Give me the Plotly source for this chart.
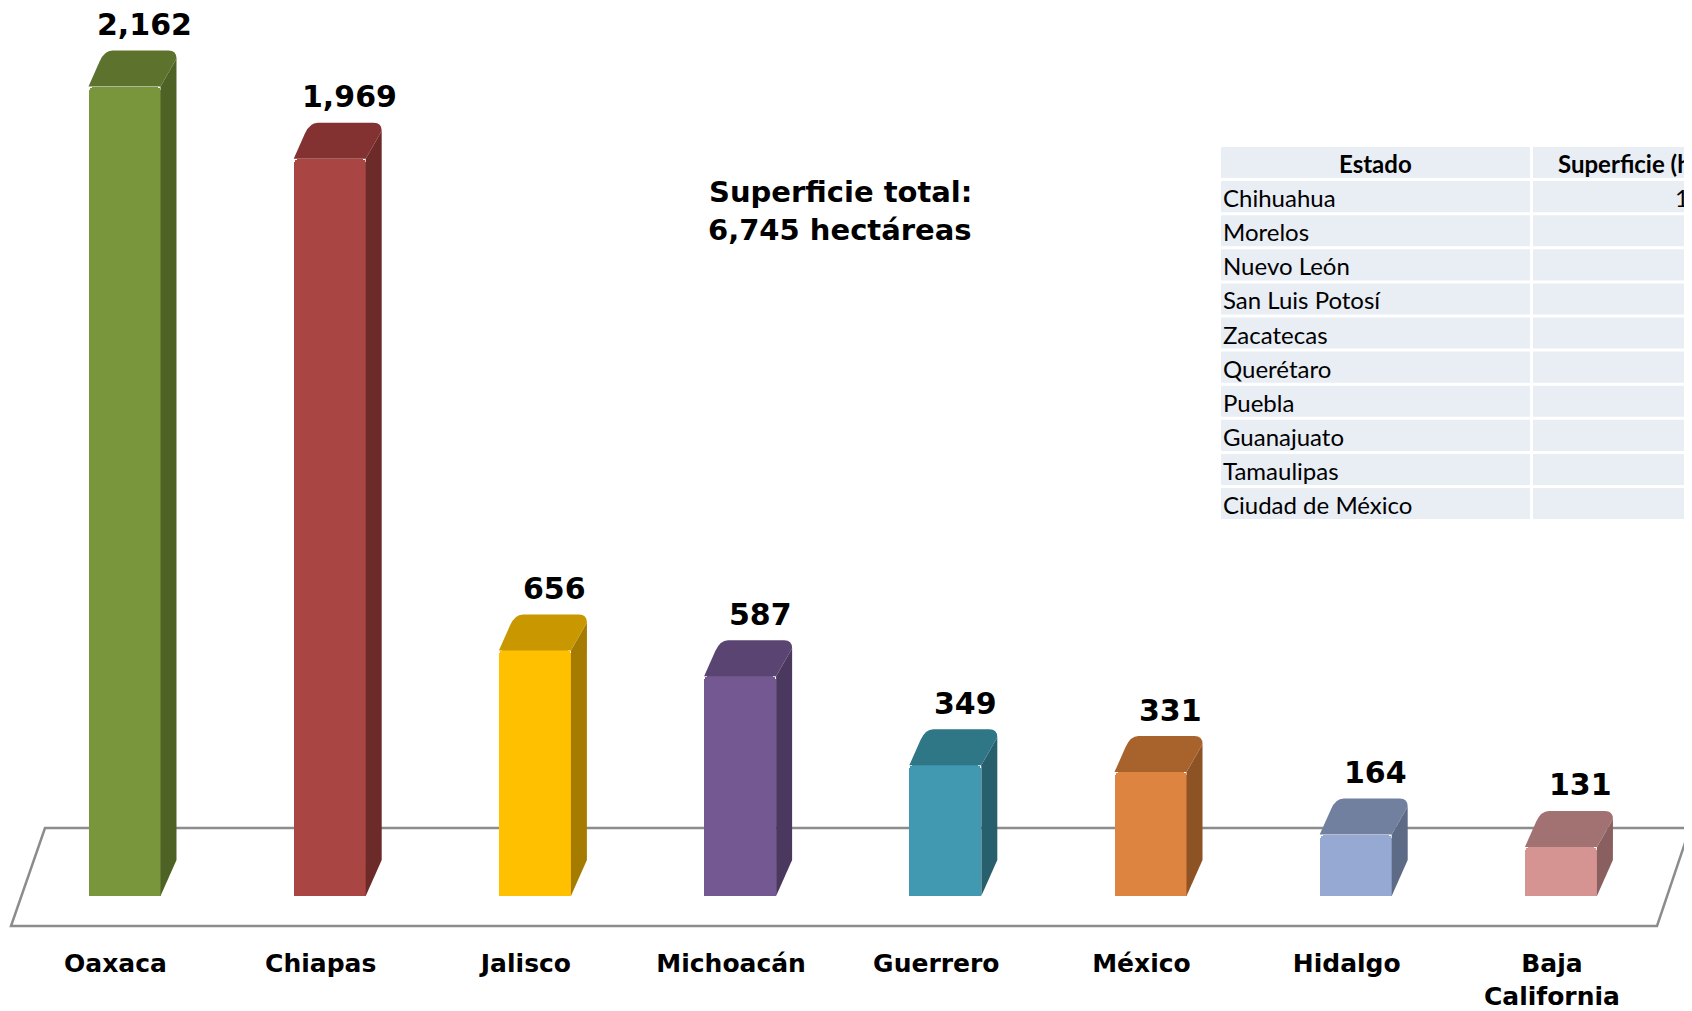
import plotly.graph_objects as go

# ---------------- data ----------------
estados = ["Oaxaca", "Chiapas", "Jalisco", "Michoacán", "Guerrero", "México", "Hidalgo", "Baja<br>California"]
superficie = [2162, 1969, 656, 587, 349, 331, 164, 131]
colores_frente = ["#7A963C", "#A94644", "#FFC000", "#735891", "#4099B0", "#DE8441", "#95A9D2", "#D59392"]
colores_tapa = ["#5D732D", "#843231", "#C99700", "#5A4471", "#2F7787", "#A8632D", "#71809F", "#A27272"]
colores_lado = ["#4F6226", "#6C2A29", "#A67C00", "#4A385E", "#285F6D", "#8E5325", "#5E6B86", "#8A5F5F"]

tabla_estados = ["Chihuahua", "Morelos", "Nuevo León", "San Luis Potosí", "Zacatecas",
                 "Querétaro", "Puebla", "Guanajuato", "Tamaulipas", "Ciudad de México"]
tabla_superficie = [150, 62, 48, 35, 30, 25, 20, 12, 8, 6]
tabla_encabezado = ["Estado", "Superficie (ha)"]

titulo_1 = "Superficie total:"
titulo_2 = "6,745 hectáreas"

# ---------------- geometry / style ----------------
OFF = 8                     # page body offset
W, H = 1692 - OFF, 1011 - OFF
MB = 76                     # bottom margin
PH = H - MB                 # plot height in px
XR = [-0.5239, 7.6827]      # x range (category units)
YR = [-104.2, 2371.8]       # y range (value units)
px_x = W / (XR[1] - XR[0])  # px per category unit
px_y = PH / (YR[1] - YR[0]) # px per value unit

FRONT_W = 72 / px_x
FRONT_OFF = 9 / px_x
DX = 16 / px_x
DY = 36 / px_y
RX = 8 / px_x
RY = 8 / px_y
FR = 0.3

def py2paper(py):           # py: page pixel
    return (PH - (py - OFF)) / PH

def px2paper(px):           # px: page pixel
    return (px - OFF) / W

BOLD = "DejaVu Sans"
fig = go.Figure()

xs = [i + FRONT_OFF for i in range(len(estados))]
fig.add_trace(go.Bar(
    x=xs, y=superficie, width=FRONT_W,
    marker=dict(color=colores_frente, line=dict(width=0), cornerradius=5),
    hoverinfo="skip", showlegend=False,
))

shapes = []
# floor (parallelogram)
fx = [45, 1690, 1657, 11]
fy = [828, 828, 926, 926]
path = "M {} {} L {} {} L {} {} L {} {} Z".format(
    *sum([[px2paper(a), py2paper(b)] for a, b in zip(fx, fy)], []))
shapes.append(dict(type="path", path=path, xref="paper", yref="paper",
                   line=dict(color="#8C8C8C", width=2.5), fillcolor="white", layer="below"))

# 3D faces derived from data
for i, v in enumerate(superficie):
    xl = xs[i] - FRONT_W / 2
    xr = xs[i] + FRONT_W / 2
    t = v
    # side face
    p = (f"M {xr} 0 L {xr+DX} {DY} L {xr+DX} {t+DY-RY} L {xr} {t} Z")
    shapes.append(dict(type="path", path=p, xref="x", yref="y",
                       line=dict(width=0), fillcolor=colores_lado[i], layer="above"))
    # top cap with rounded back corners
    p = (f"M {xl} {t} L {xr} {t} L {xr+DX} {t+DY-RY} "
         f"Q {xr+DX} {t+DY} {xr+DX-RX} {t+DY} "
         f"L {xl+DX+RX} {t+DY} "
         f"Q {xl+DX} {t+DY} {xl+DX-DX*FR} {t+DY-DY*FR} "
         f"L {xl} {t} Z")
    shapes.append(dict(type="path", path=p, xref="x", yref="y",
                       line=dict(width=0), fillcolor=colores_tapa[i], layer="above"))

# table
tx0, tx1, tx2 = 1221, 1530, 1733
ty0, row_h, gap = 147, 34.1, 3
annotations = []
rows = [tabla_encabezado] + [[e, f"{s:,}"] for e, s in zip(tabla_estados, tabla_superficie)]
TF = dict(family="Lato", size=24, color="black")
for r, row in enumerate(rows):
    y_top = ty0 + r * row_h
    y_bot = y_top + row_h - gap
    for (a, b) in [(tx0, tx1), (tx1 + 3, tx2)]:
        shapes.append(dict(type="rect", xref="paper", yref="paper",
                           x0=px2paper(a), x1=px2paper(b), y0=py2paper(y_bot), y1=py2paper(y_top),
                           line=dict(width=0), fillcolor="#E9EDF4", layer="below"))
    yc = py2paper((y_top + y_bot) / 2 + 1)
    if r == 0:
        annotations.append(dict(text=f"<b>{row[0]}</b>", x=px2paper((tx0 + tx1) / 2), y=yc,
                                xref="paper", yref="paper", showarrow=False,
                                xanchor="center", yanchor="middle", font=TF))
        annotations.append(dict(text=f"<b>{row[1]}</b>", x=px2paper((tx1 + 3 + tx2) / 2), y=yc,
                                xref="paper", yref="paper", showarrow=False,
                                xanchor="center", yanchor="middle", font=TF))
    else:
        annotations.append(dict(text=row[0], x=px2paper(tx0), y=yc,
                                xref="paper", yref="paper", showarrow=False,
                                xanchor="left", yanchor="middle", font=TF))
        annotations.append(dict(text=row[1], x=px2paper(tx2 - 14), y=yc,
                                xref="paper", yref="paper", showarrow=False,
                                xanchor="right", yanchor="middle", font=TF))

# value labels
for i, v in enumerate(superficie):
    annotations.append(dict(text=f"<b>{v:,}</b>", x=i, y=v, xref="x", yref="y",
                            xshift=29, yshift=62, showarrow=False,
                            xanchor="center", yanchor="middle",
                            font=dict(family=BOLD, size=30, color="black")))

# total
for txt, yy in [(titulo_1, 192), (titulo_2, 230)]:
    annotations.append(dict(text=f"<b>{txt}</b>", x=px2paper(840), y=py2paper(yy),
                            xref="paper", yref="paper", showarrow=False,
                            xanchor="center", yanchor="middle",
                            font=dict(family=BOLD, size=29, color="black")))

fig.update_layout(
    width=W, height=H,
    margin=dict(l=0, r=0, t=0, b=MB, autoexpand=False),
    paper_bgcolor="white", plot_bgcolor="rgba(0,0,0,0)",
    shapes=shapes, annotations=annotations,
    xaxis=dict(range=XR, tickvals=list(range(len(estados))), ticktext=[f"<b>{e}</b>" for e in estados],
               showgrid=False, zeroline=False, showline=False, ticks="", automargin=False,
               tickfont=dict(family=BOLD, size=25, color="black"), ticklabelstandoff=11,
               fixedrange=True),
    yaxis=dict(range=YR, visible=False, fixedrange=True, automargin=False),
    bargap=0,
)

fig.write_html("out.html")
